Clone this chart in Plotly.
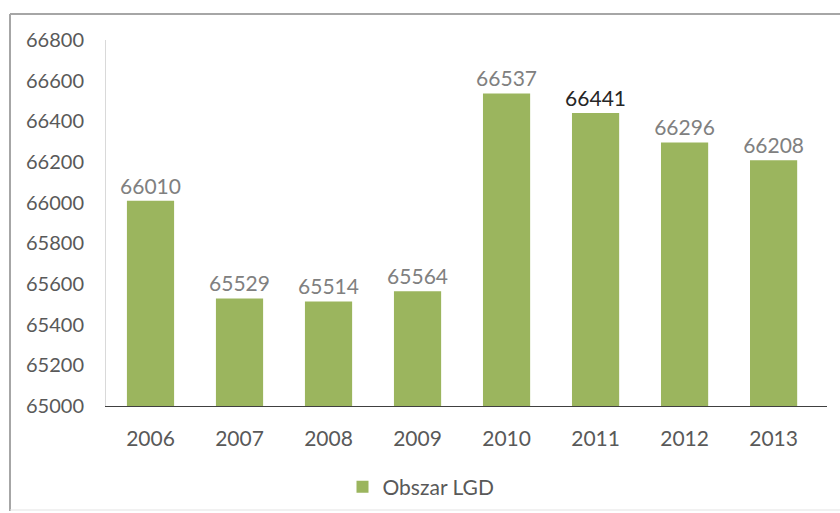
import plotly.graph_objects as go

years = ["2006", "2007", "2008", "2009", "2010", "2011", "2012", "2013"]
values = [66010, 65529, 65514, 65564, 66537, 66441, 66296, 66208]
series_name = "Obszar LGD"
label_colors = ["#808080"] * 5 + ["#262626"] + ["#808080"] * 2

FONT = "Lato"

fig = go.Figure()
fig.add_trace(go.Bar(
    x=years, y=values, name=series_name,
    marker=dict(color="#9bb55e", line=dict(width=0)),
    text=[str(v) for v in values], textposition="outside", cliponaxis=False,
    constraintext="none",
    textfont=dict(size=21, color=label_colors, family=FONT),
    width=0.53,
))

W, H = 840, 513
L, R, T, B = 106, 13, 40, 107
pw, ph = W - L - R, H - T - B

def px(x):
    return (x - L) / pw

def py(y):
    return (H - B - y) / ph

line_shapes = [
    dict(type="line", xref="paper", yref="paper", x0=px(10), x1=px(846), y0=py(14), y1=py(14),
         line=dict(color="#a6a6a6", width=2), layer="below"),
    dict(type="line", xref="paper", yref="paper", x0=px(10), x1=px(10), y0=py(14), y1=py(511),
         line=dict(color="#a6a6a6", width=2), layer="below"),
    dict(type="line", xref="paper", yref="paper", x0=px(10), x1=px(846), y0=py(510), y1=py(510),
         line=dict(color="#e3e3e3", width=1), layer="below"),
]

fig.update_layout(
    width=W, height=H,
    margin=dict(l=L, r=R, t=T, b=B, autoexpand=False),
    paper_bgcolor="white", plot_bgcolor="white",
    font=dict(family=FONT, color="#595959", size=20),
    showlegend=True,
    legend=dict(orientation="h", xref="container", yref="container",
                x=421 / W, xanchor="center", y=(H - 487) / H, yanchor="middle",
                font=dict(size=21, color="#595959"), itemwidth=30),
    xaxis=dict(range=[-0.5, 7.6], showline=True, linecolor="#404040", linewidth=1, ticks="",
               automargin=False, tickfont=dict(size=21, color="#595959"), ticklabelstandoff=14),
    yaxis=dict(range=[65000, 66800], dtick=200, tickformat="d", showgrid=False, zeroline=False,
               showline=True, linecolor="#d9d9d9", linewidth=1, ticks="", automargin=False,
               tickfont=dict(size=20, color="#595959"), ticklabelstandoff=17),
    shapes=line_shapes,
)

fig.write_html("out.html", config={"displayModeBar": False},
               post_script="document.body.style.margin='0';")
